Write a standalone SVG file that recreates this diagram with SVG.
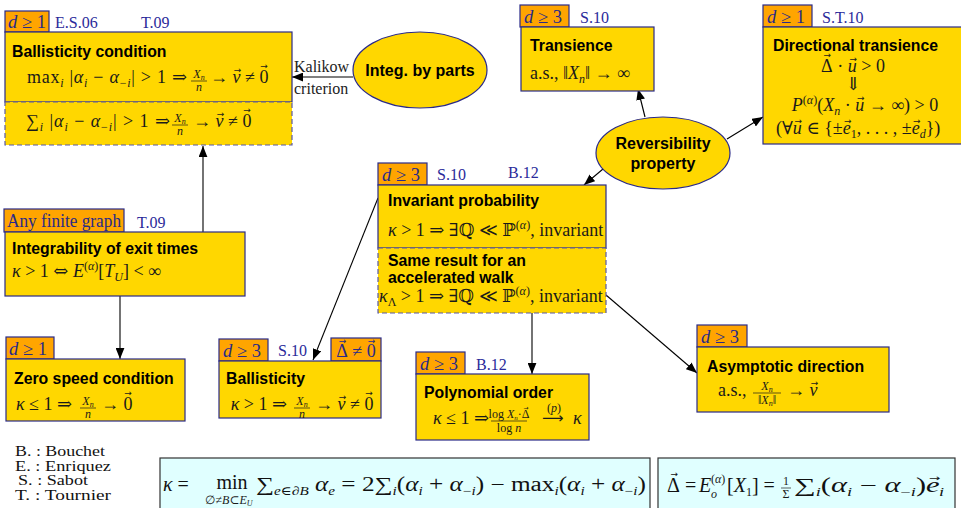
<svg xmlns="http://www.w3.org/2000/svg" width="961" height="508" viewBox="0 0 961 508">
<defs>
<marker id="ah" viewBox="0 0 10 8" refX="10" refY="4" markerWidth="11" markerHeight="9" orient="auto" markerUnits="userSpaceOnUse"><path d="M0,0 L10,4 L0,8 z" fill="#000"/></marker>
<style>
.box{fill:#FFD700;stroke:#2a2a88;stroke-width:1.2}
.dash{fill:#FFD700;stroke:#5a5aa6;stroke-width:1.2;stroke-dasharray:5 3}
.tag{fill:#FFA500;stroke:#2a2a88;stroke-width:1.2}
.ell{fill:#FFD700;stroke:#2a2a88;stroke-width:1.2}
.ttl{font-family:"Liberation Sans",Arial,sans-serif;font-weight:bold;font-size:15.8px;fill:#000}
.ettl{font-family:"Liberation Sans",Arial,sans-serif;font-weight:bold;font-size:16px;fill:#000;text-anchor:middle}
.m{font-family:"Liberation Serif","DejaVu Serif",serif;font-size:18px;fill:#1a1a1a}
.i{font-style:italic}
.s{font-size:12px}
.ar{font-family:"DejaVu Serif",serif;font-style:normal}
.lar{font-family:"DejaVu Sans",sans-serif;font-size:15px;fill:#1a1a1a}
.ac{font-family:"DejaVu Sans",sans-serif;font-size:9px;font-style:normal}
.ac2{font-family:"DejaVu Sans",sans-serif;font-size:6px;font-style:normal}
.ref{font-family:"Liberation Serif",serif;font-size:16px;fill:#2a2a9a}
.tg{font-family:"Liberation Serif","DejaVu Serif",serif;font-size:18px;fill:#2a2a88}
.fr{font-family:"Liberation Serif","DejaVu Serif",serif;font-size:12px;fill:#1a1a1a;text-anchor:middle}
.fl{stroke:#1a1a1a;stroke-width:0.7}
.conn line{stroke:#000;stroke-width:1.1;marker-end:url(#ah)}
.lbl{font-family:"Liberation Serif",serif;font-size:16px;fill:#222}
.lg{font-family:"Liberation Serif",serif;font-size:15px;fill:#111}
.fb{fill:#E0FFFF;stroke:#333;stroke-width:1.2}
.big{font-family:"Liberation Serif","DejaVu Serif",serif;font-size:20px;fill:#111}
</style>
</defs>
<rect width="961" height="508" fill="#fff"/>

<g id="connectors" class="conn">
<line x1="353" y1="77" x2="292" y2="77"/>
<line x1="203" y1="232" x2="203" y2="146"/>
<line x1="120" y1="296" x2="120" y2="359"/>
<line x1="645" y1="117" x2="638" y2="89"/>
<line x1="727" y1="139" x2="763" y2="117"/>
<line x1="603" y1="169" x2="584" y2="185"/>
<line x1="378" y1="198" x2="313" y2="360"/>
<line x1="532" y1="313" x2="532" y2="374"/>
<line x1="606" y1="295" x2="697" y2="373"/>
</g>
<g id="conn-labels">
<text class="lbl" x="294" y="72">Kalikow</text>
<text class="lbl" x="294" y="94">criterion</text>
</g>

<g id="ballistic-condition">
<rect class="tag" x="5" y="11" width="44" height="21"/>
<text class="tg" x="8" y="28" textLength="38" lengthAdjust="spacingAndGlyphs"><tspan class="i">d</tspan> ≥ 1</text>
<text class="ref" x="55" y="28">E.S.06</text>
<text class="ref" x="141" y="28">T.09</text>
<rect class="box" x="5" y="32" width="287" height="70"/>
<text class="ttl" x="12" y="57">Ballisticity condition</text>
<text class="m" x="27" y="83" textLength="160" lengthAdjust="spacing">max<tspan class="s i" dy="4">i</tspan><tspan dy="-4"> |</tspan><tspan class="i">α</tspan><tspan class="s i" dy="4">i</tspan><tspan dy="-4"> − </tspan><tspan class="i">α</tspan><tspan class="s" dy="4">−<tspan class="i">i</tspan></tspan><tspan dy="-4">| &gt; 1 ⇒</tspan></text>
<text class="fr" x="199" y="78"><tspan class="i">X</tspan><tspan class="i" font-size="8" dy="2">n</tspan></text>
<line class="fl" x1="191" y1="81" x2="207" y2="81"/>
<text class="fr i" x="199" y="91">n</text>
<text class="m" x="210" y="83">→ <tspan class="i">v</tspan><tspan class="ac" dx="-6.75" dy="-10">→</tspan><tspan dx="-0.75" dy="10"> ≠ 0</tspan><tspan class="ac" dx="-8.25" dy="-14">→</tspan></text>
<rect class="dash" x="5" y="102" width="287" height="43"/>
<text class="m" x="26" y="127" textLength="144" lengthAdjust="spacing">∑<tspan class="s i" dy="4">i</tspan><tspan dy="-4"> |</tspan><tspan class="i">α</tspan><tspan class="s i" dy="4">i</tspan><tspan dy="-4"> − </tspan><tspan class="i">α</tspan><tspan class="s" dy="4">−<tspan class="i">i</tspan></tspan><tspan dy="-4">| &gt; 1 ⇒</tspan></text>
<text class="fr" x="180" y="122"><tspan class="i">X</tspan><tspan class="i" font-size="8" dy="2">n</tspan></text>
<line class="fl" x1="172" y1="125" x2="188" y2="125"/>
<text class="fr i" x="180" y="135">n</text>
<text class="m" x="193" y="127">→ <tspan class="i">v</tspan><tspan class="ac" dx="-6.75" dy="-10">→</tspan><tspan dx="-0.75" dy="10"> ≠ 0</tspan><tspan class="ac" dx="-8.25" dy="-14">→</tspan></text>
</g>

<g id="integ-by-parts">
<ellipse class="ell" cx="420" cy="70" rx="67" ry="38"/>
<text class="ettl" x="420" y="76">Integ. by parts</text>
</g>

<g id="transience">
<rect class="tag" x="520" y="5" width="49" height="22"/>
<text class="tg" x="524" y="23" textLength="38" lengthAdjust="spacingAndGlyphs"><tspan class="i">d</tspan> ≥ 3</text>
<text class="ref" x="580" y="23">S.10</text>
<rect class="box" x="521" y="27" width="133" height="64"/>
<text class="ttl" x="530" y="51">Transience</text>
<text class="m" x="530" y="79">a.s., ‖<tspan class="i">X</tspan><tspan class="s i" dy="4">n</tspan><tspan dy="-4">‖ → ∞</tspan></text>
</g>

<g id="directional-transience">
<rect class="tag" x="763" y="5" width="49" height="22"/>
<text class="tg" x="767" y="23" textLength="38" lengthAdjust="spacingAndGlyphs"><tspan class="i">d</tspan> ≥ 1</text>
<text class="ref" x="822" y="23">S.T.10</text>
<rect class="box" x="763" y="27" width="200" height="117"/>
<text class="ttl" x="773" y="51">Directional transience</text>
<text class="m" x="853" y="72" text-anchor="middle">Δ<tspan class="ac" dx="-9.25" dy="-14">→</tspan><tspan dx="1.75" dy="14"> · </tspan><tspan class="i">u</tspan><tspan class="ac" dx="-7.25" dy="-10">→</tspan><tspan dx="-0.25" dy="10"> &gt; 0</tspan></text>
<text class="m" x="853" y="90" text-anchor="middle">⇓</text>
<text class="m" x="865" y="111" text-anchor="middle"><tspan class="i">P</tspan><tspan class="s" dy="-7">(<tspan class="i">α</tspan>)</tspan><tspan dy="7">(</tspan><tspan class="i">X</tspan><tspan class="s i" dy="4">n</tspan><tspan dy="-4"> · </tspan><tspan class="i">u</tspan><tspan class="ac" dx="-7.25" dy="-10">→</tspan><tspan dx="-0.25" dy="10"> → ∞) &gt; 0</tspan></text>
<text class="m" x="776" y="134">(∀<tspan class="i">u</tspan><tspan class="ac" dx="-7.25" dy="-10">→</tspan><tspan dx="-0.25" dy="10"> ∈ {±</tspan><tspan class="i">e</tspan><tspan class="ac" dx="-6.75" dy="-10">→</tspan><tspan class="s" dx="-0.75" dy="14">1</tspan><tspan dy="-4">, . . . , ±</tspan><tspan class="i">e</tspan><tspan class="ac" dx="-6.75" dy="-10">→</tspan><tspan class="s i" dx="-0.75" dy="14">d</tspan><tspan dy="-4">})</tspan></text>
</g>

<g id="reversibility">
<ellipse class="ell" cx="663" cy="153" rx="67" ry="36"/>
<text class="ettl" x="663" y="149">Reversibility</text>
<text class="ettl" x="663" y="169">property</text>
</g>

<g id="invariant-probability">
<rect class="tag" x="378" y="163" width="49" height="22"/>
<text class="tg" x="382" y="181" textLength="38" lengthAdjust="spacingAndGlyphs"><tspan class="i">d</tspan> ≥ 3</text>
<text class="ref" x="437" y="180">S.10</text>
<text class="ref" x="508" y="178">B.12</text>
<rect class="box" x="378" y="185" width="228" height="63"/>
<text class="ttl" x="388" y="206">Invariant probability</text>
<text class="m" x="388" y="236"><tspan class="i">κ</tspan> &gt; 1 ⇒ ∃ℚ ≪ ℙ<tspan class="s" dy="-7">(<tspan class="i">α</tspan>)</tspan><tspan dy="7">, invariant</tspan></text>
<rect class="dash" x="378" y="248" width="228" height="65"/>
<text class="ttl" x="388" y="266">Same result for an</text>
<text class="ttl" x="388" y="283">accelerated walk</text>
<text class="m" x="379" y="302"><tspan class="i">κ</tspan><tspan class="s" dy="4">Λ</tspan><tspan dy="-4"> &gt; 1 ⇒ ∃ℚ ≪ ℙ</tspan><tspan class="s" dy="-7">(<tspan class="i">α</tspan>)</tspan><tspan dy="7">, invariant</tspan></text>
</g>

<g id="integrability">
<rect class="tag" x="4" y="209" width="120" height="23"/>
<text class="tg" x="7" y="227" font-size="16" textLength="114" lengthAdjust="spacingAndGlyphs">Any finite graph</text>
<text class="ref" x="137" y="228">T.09</text>
<rect class="box" x="5" y="232" width="240" height="64"/>
<text class="ttl" x="12" y="254">Integrability of exit times</text>
<text class="m" x="12" y="277"><tspan class="i">κ</tspan> &gt; 1 <tspan class="ar">⇔</tspan> <tspan class="i">E</tspan><tspan class="s" dy="-7">(<tspan class="i">α</tspan>)</tspan><tspan dy="7">[</tspan><tspan class="i">T</tspan><tspan class="s i" dy="4">U</tspan><tspan dy="-4">] &lt; ∞</tspan></text>
</g>

<g id="zero-speed">
<rect class="tag" x="6" y="337" width="48" height="22"/>
<text class="tg" x="9" y="355" textLength="38" lengthAdjust="spacingAndGlyphs"><tspan class="i">d</tspan> ≥ 1</text>
<rect class="box" x="6" y="359" width="179" height="62"/>
<text class="ttl" x="14" y="384">Zero speed condition</text>
<text class="m" x="72" y="410" text-anchor="end"><tspan class="i">κ</tspan> ≤ 1 ⇒</text>
<text class="fr" x="88" y="405"><tspan class="i">X</tspan><tspan class="i" font-size="8" dy="2">n</tspan></text>
<line class="fl" x1="80" y1="408" x2="96" y2="408"/>
<text class="fr i" x="88" y="418">n</text>
<text class="m" x="101" y="410">→ 0<tspan class="ac" dx="-8.25" dy="-14">→</tspan></text>
</g>

<g id="ballisticity">
<rect class="tag" x="219" y="339" width="49" height="22"/>
<text class="tg" x="223" y="357" textLength="38" lengthAdjust="spacingAndGlyphs"><tspan class="i">d</tspan> ≥ 3</text>
<text class="ref" x="278" y="356">S.10</text>
<rect class="tag" x="331" y="338" width="50" height="23"/>
<text class="tg" x="356" y="357" font-size="17" text-anchor="middle">Δ<tspan class="ac" dx="-8.95" dy="-13">→</tspan><tspan dx="1.45" dy="13"> ≠ 0</tspan><tspan class="ac" dx="-8" dy="-13">→</tspan></text>
<rect class="box" x="219" y="361" width="162" height="57"/>
<text class="ttl" x="226" y="384">Ballisticity</text>
<text class="m" x="287" y="410" text-anchor="end"><tspan class="i">κ</tspan> &gt; 1 ⇒</text>
<text class="fr" x="302" y="405"><tspan class="i">X</tspan><tspan class="i" font-size="8" dy="2">n</tspan></text>
<line class="fl" x1="294" y1="408" x2="310" y2="408"/>
<text class="fr i" x="302" y="418">n</text>
<text class="m" x="315" y="410">→ <tspan class="i">v</tspan><tspan class="ac" dx="-6.75" dy="-10">→</tspan><tspan dx="-0.75" dy="10"> ≠ 0</tspan><tspan class="ac" dx="-8.25" dy="-14">→</tspan></text>
</g>

<g id="polynomial-order">
<rect class="tag" x="416" y="352" width="49" height="22"/>
<text class="tg" x="420" y="370" textLength="38" lengthAdjust="spacingAndGlyphs"><tspan class="i">d</tspan> ≥ 3</text>
<text class="ref" x="476" y="370">B.12</text>
<rect class="box" x="416" y="374" width="173" height="66"/>
<text class="ttl" x="424" y="398">Polynomial order</text>
<text class="m" x="489" y="424" text-anchor="end"><tspan class="i">κ</tspan> ≤ 1 ⇒</text>
<text class="fr" x="509" y="418" font-size="11">log <tspan class="i">X</tspan><tspan class="i" font-size="7" dy="2">n</tspan><tspan dy="-2">·Δ</tspan><tspan class="ac2" dx="-5.85" dy="-8">→</tspan></text>
<line class="fl" x1="491" y1="421" x2="527" y2="421"/>
<text class="fr" x="509" y="432" font-size="11">log <tspan class="i">n</tspan></text>
<text class="fr" x="554" y="412" font-size="11">(<tspan class="i">p</tspan>)</text>
<text class="lar" x="542" y="423">⟶</text>
<text class="m i" x="573" y="424">κ</text>
</g>

<g id="asymptotic-direction">
<rect class="tag" x="697" y="325" width="50" height="22"/>
<text class="tg" x="701" y="343" textLength="38" lengthAdjust="spacingAndGlyphs"><tspan class="i">d</tspan> ≥ 3</text>
<rect class="box" x="697" y="347" width="192" height="65"/>
<text class="ttl" x="707" y="372">Asymptotic direction</text>
<text class="m" x="718" y="396">a.s.,</text>
<text class="fr" x="767" y="390"><tspan class="i">X</tspan><tspan class="i" font-size="8" dy="2">n</tspan></text>
<line class="fl" x1="753" y1="393" x2="781" y2="393"/>
<text class="fr" x="767" y="404">‖<tspan class="i">X</tspan><tspan class="i" font-size="8" dy="2">n</tspan><tspan dy="-2">‖</tspan></text>
<text class="m" x="787" y="396">→ <tspan class="i">ν</tspan><tspan class="ac" dx="-6.75" dy="-10">→</tspan></text>
</g>

<g id="legend">
<text class="lg" x="15" y="456" textLength="90" lengthAdjust="spacingAndGlyphs">B. : Bouchet</text>
<text class="lg" x="15" y="471" textLength="96" lengthAdjust="spacingAndGlyphs">E. : Enriquez</text>
<text class="lg" x="18" y="485" textLength="70" lengthAdjust="spacingAndGlyphs">S. : Sabot</text>
<text class="lg" x="15" y="500" textLength="96" lengthAdjust="spacingAndGlyphs">T. : Tournier</text>
</g>

<g id="kappa-def">
<rect class="fb" x="160" y="458" width="490" height="56"/>
<text class="big" x="163" y="491"><tspan class="i">κ</tspan> =</text>
<text class="big" x="232" y="489" text-anchor="middle">min</text>
<text class="m s" x="229" y="504" text-anchor="middle">∅≠<tspan class="i">B</tspan>⊂<tspan class="i">E</tspan><tspan font-size="8" class="i" dy="2">U</tspan></text>
<text class="big" x="256" y="491" textLength="390" lengthAdjust="spacingAndGlyphs">∑<tspan class="s" dy="4"><tspan class="i">e</tspan>∈∂<tspan class="i">B</tspan></tspan><tspan dy="-4"> </tspan><tspan class="i">α</tspan><tspan class="s i" dy="4">e</tspan><tspan dy="-4"> = 2∑</tspan><tspan class="s i" dy="4">i</tspan><tspan dy="-4">(</tspan><tspan class="i">α</tspan><tspan class="s i" dy="4">i</tspan><tspan dy="-4"> + </tspan><tspan class="i">α</tspan><tspan class="s" dy="4">−<tspan class="i">i</tspan></tspan><tspan dy="-4">) − max</tspan><tspan class="s i" dy="4">i</tspan><tspan dy="-4">(</tspan><tspan class="i">α</tspan><tspan class="s i" dy="4">i</tspan><tspan dy="-4"> + </tspan><tspan class="i">α</tspan><tspan class="s" dy="4">−<tspan class="i">i</tspan></tspan><tspan dy="-4">)</tspan></text>
</g>

<g id="delta-def">
<rect class="fb" x="658" y="458" width="297" height="56"/>
<text class="big" x="667" y="492">Δ<tspan class="ac" dx="-9.5" dy="-15">→</tspan><tspan dx="2" dy="15"> =</tspan></text>
<text class="big i" x="699" y="492">E</text>
<text class="m s" x="711" y="483">(<tspan class="i">α</tspan>)</text>
<text class="m s i" x="711" y="498">o</text>
<text class="big" x="727" y="492">[<tspan class="i">X</tspan><tspan class="s" dy="4">1</tspan><tspan dy="-4">] =</tspan></text>
<text class="fr" x="786" y="485" font-size="11">1</text>
<line class="fl" x1="781" y1="488" x2="791" y2="488"/>
<text class="fr" x="786" y="498" font-size="11">Σ</text>
<text class="big" x="794" y="492" textLength="150" lengthAdjust="spacingAndGlyphs">∑<tspan class="s i" dy="4">i</tspan><tspan dy="-4">(</tspan><tspan class="i">α</tspan><tspan class="s i" dy="4">i</tspan><tspan dy="-4"> − </tspan><tspan class="i">α</tspan><tspan class="s" dy="4">−<tspan class="i">i</tspan></tspan><tspan dy="-4">)</tspan><tspan class="i">e</tspan><tspan class="ac" dx="-7" dy="-11">→</tspan><tspan class="s i" dx="-1" dy="15">i</tspan></text>
</g>
</svg>
